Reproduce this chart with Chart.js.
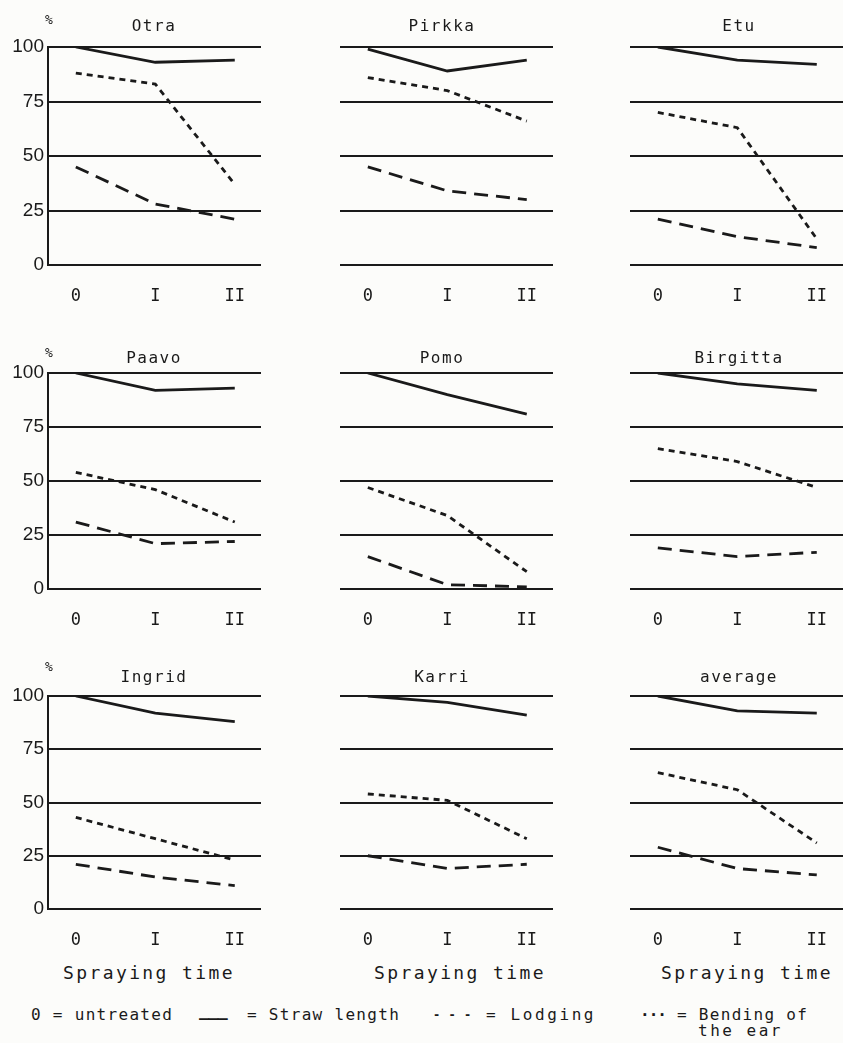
<!DOCTYPE html>
<html>
<head>
<meta charset="utf-8">
<script src="https://cdn.jsdelivr.net/npm/chart.js@4/dist/chart.umd.min.js"></script>
<style>
  body { margin: 0; background: #fcfcfa; width: 843px; height: 1043px; overflow: hidden; position: relative; }
  .panel { position: absolute; }
  .txt { position: absolute; white-space: nowrap; color: #1a1a1a; font-family: "DejaVu Sans Mono", monospace; }
</style>
</head>
<body>
<script>
// values, in % of untreated
var varieties = ['Otra', 'Pirkka', 'Etu', 'Paavo', 'Pomo', 'Birgitta', 'Ingrid', 'Karri', 'average'];
var sprayingTimes = ['0', 'I', 'II'];
var yTicks = [0, 25, 50, 75, 100];

var strawLength = [
    [100, 93, 94], [99, 89, 94], [100, 94, 92],
    [100, 92, 93], [100, 90, 81], [100, 95, 92],
    [100, 92, 88], [100, 97, 91], [100, 93, 92]
];
var lodging = [
    [45, 28, 21], [45, 34, 30], [21, 13, 8],
    [31, 21, 22], [15, 2, 1], [19, 15, 17],
    [21, 15, 11], [25, 19, 21], [29, 19, 16]
];
var bendingOfEar = [
    [88, 83, 37], [86, 80, 66], [70, 63, 12],
    [54, 46, 31], [47, 34, 8], [65, 59, 47],
    [43, 33, 23], [54, 51, 33], [64, 56, 31]
];

var ink = '#1a1a1a';
var colLeft = [48, 340, 630];
var titleX = [154, 442, 739];
var rowTop = [47, 373, 696];
var rowH = [218, 216, 213];
var titleY = [26, 358, 677];
var percentY = [20, 353, 667];
var padTop = 20;

function addText(str, x, y, css) {
    var d = document.createElement('div');
    d.className = 'txt';
    d.textContent = str;
    d.style.left = x + 'px';
    d.style.top = (y - 12) + 'px';
    d.style.lineHeight = '24px';
    for (var k in css) d.style[k] = css[k];
    document.body.appendChild(d);
    return d;
}

function toPoints(arr) {
    return arr.map(function(v, i){ return {x: i, y: v}; });
}

function makePanel(n) {
    var row = Math.floor(n / 3), col = n % 3;
    var w = 48 + 213 + 2;
    var h = padTop + rowH[row] + 40;
    var holder = document.createElement('div');
    holder.className = 'panel';
    holder.style.left = (colLeft[col] - 48) + 'px';
    holder.style.top = (rowTop[row] - padTop) + 'px';
    var cv = document.createElement('canvas');
    cv.width = w;
    cv.height = h;
    cv.style.width = w + 'px';
    cv.style.height = h + 'px';
    holder.appendChild(cv);
    document.body.appendChild(holder);

    var first = col == 0;
    var lineBase = {pointRadius: 0, borderWidth: 2.8, borderColor: ink, fill: false, tension: 0, borderCapStyle: 'butt'};

    new Chart(cv.getContext('2d'), {
        type: 'line',
        data: {
            datasets: [
                Object.assign({label: 'Straw length', data: toPoints(strawLength[n])}, lineBase),
                Object.assign({label: 'Lodging', data: toPoints(lodging[n]), borderDash: [14, 8]}, lineBase),
                Object.assign({label: 'Bending of the ear', data: toPoints(bendingOfEar[n]), borderDash: [6, 5]}, lineBase)
            ]
        },
        options: {
            responsive: false,
            animation: false,
            layout: {padding: {top: padTop, right: 2, left: 0, bottom: 0}},
            plugins: {legend: {display: false}, tooltip: {enabled: false}},
            scales: {
                x: {
                    type: 'linear',
                    min: -0.35,
                    max: 2.33,
                    grid: {display: false},
                    border: {display: false},
                    afterBuildTicks: function(scale){
                        scale.ticks = sprayingTimes.map(function(_, i){ return {value: i}; });
                    },
                    afterFit: function(scale){ scale.height = 40; },
                    ticks: {
                        padding: 13,
                        color: '#1a1a1a',
                        font: {family: 'DejaVu Sans Mono', size: 17},
                        maxRotation: 0,
                        callback: function(v){ return sprayingTimes[v]; }
                    }
                },
                y: {
                    min: 0,
                    max: 100,
                    afterBuildTicks: function(scale){
                        scale.ticks = yTicks.map(function(v){ return {value: v}; });
                    },
                    afterFit: function(scale){ scale.width = 48; },
                    grid: {color: ink, lineWidth: 2, drawTicks: false},
                    border: {display: first, color: ink, width: 2},
                    ticks: {
                        display: first,
                        padding: 4,
                        color: '#1a1a1a',
                        font: {family: 'Liberation Sans', size: 19}
                    }
                }
            }
        }
    });

    addText(varieties[n], titleX[col], titleY[row], {transform: 'translateX(-50%)', fontSize: '16px', letterSpacing: '1.5px'});
    if (first) addText('%', 49, percentY[row], {transform: 'translateX(-50%)', fontSize: '13px'});
}

for (var i = 0; i < varieties.length; i++) makePanel(i);

var sprayX = [149, 460, 747];
for (var c = 0; c < 3; c++) {
    addText('Spraying time', sprayX[c], 973, {transform: 'translateX(-50%)', fontSize: '18px', letterSpacing: '2.4px'});
}

var legendCss = {fontSize: '16px', letterSpacing: '1.3px'};
addText('0 = untreated', 31, 1015, legendCss);
addText('___', 199, 1010, {fontSize: '17px', letterSpacing: '-1px', fontWeight: 'bold'});
addText('= Straw length', 247, 1015, legendCss);
addText('- - -', 433, 1015, {fontSize: '12px', letterSpacing: '0.5px', fontWeight: 'bold'});
addText('= Lodging', 486, 1015, {fontSize: '16px', letterSpacing: '2.6px'});
addText('\u00b7\u00b7\u00b7', 640, 1015, {fontSize: '16px', letterSpacing: '-1px', fontWeight: 'bold'});
addText('= Bending of', 677, 1015, legendCss);
addText('the ear', 698, 1031, {fontSize: '16px', letterSpacing: '2.5px'});
</script>
</body>
</html>
